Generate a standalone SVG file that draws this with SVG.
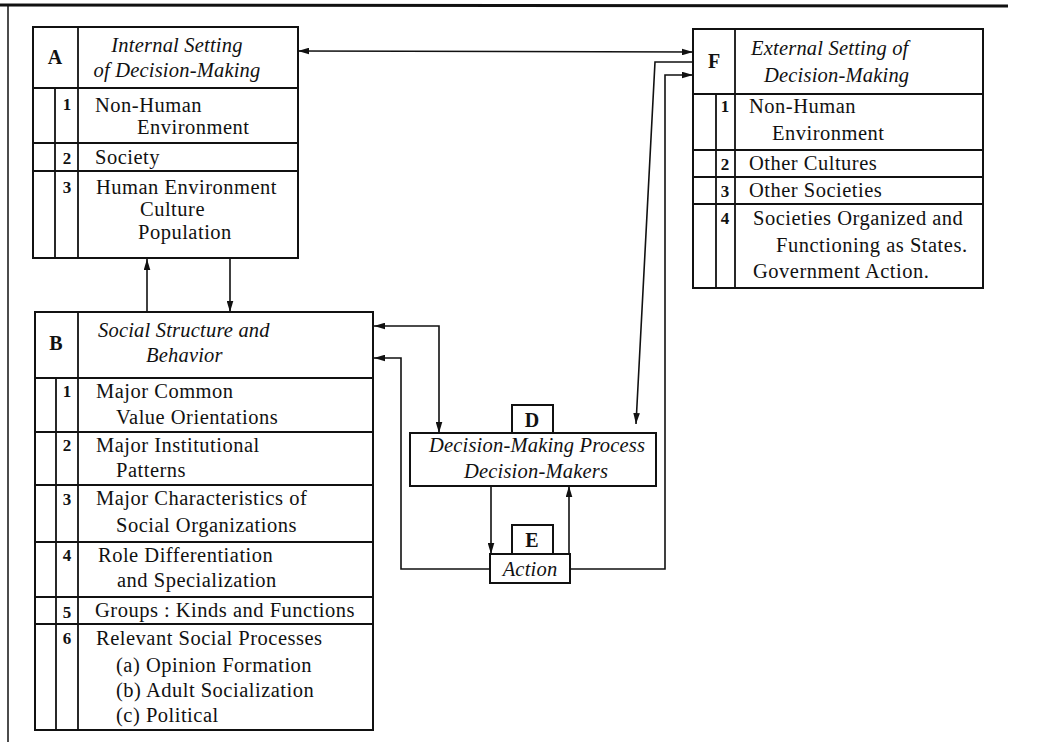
<svg xmlns="http://www.w3.org/2000/svg" width="1052" height="742" viewBox="0 0 1052 742">
<style>
  .bx { fill: none; stroke: #111; stroke-width: 2; }
  .ln { stroke: #111; stroke-width: 1.8; fill: none; }
  .cn { stroke: #111; stroke-width: 1.6; fill: none; }
  text { font-family: "Liberation Serif", "Times New Roman", serif; fill: #111; }
  .t { font-size: 20.5px; letter-spacing: 0.5px; }
  .it { font-size: 20.5px; font-style: italic; letter-spacing: 0.2px; }
  .n { font-size: 17px; font-weight: bold; text-anchor: middle; }
  .L { font-size: 20px; font-weight: bold; text-anchor: middle; }
</style>
<defs>
  <marker id="ah" viewBox="0 0 10 6" refX="10" refY="3" markerWidth="11" markerHeight="7" markerUnits="userSpaceOnUse" orient="auto-start-reverse">
    <path d="M0,0 L10,3 L0,6 z" fill="#111"/>
  </marker>
</defs>
<rect width="1052" height="742" fill="#fff"/>
<g id="frame">
  <line x1="0" y1="5" x2="1008" y2="6" stroke="#111" stroke-width="3"/>
  <line x1="8" y1="6" x2="8" y2="742" stroke="#111" stroke-width="1.5"/>
</g>

<g id="nodeA">
  <rect class="bx" x="33" y="27" width="265" height="231"/>
  <line class="ln" x1="33" y1="88" x2="298" y2="88"/>
  <line class="ln" x1="78" y1="27" x2="78" y2="258"/>
  <line class="ln" x1="55" y1="88" x2="55" y2="258"/>
  <line class="ln" x1="33" y1="143" x2="298" y2="143"/>
  <line class="ln" x1="33" y1="171" x2="298" y2="171"/>
  <text class="L" x="55" y="64">A</text>
  <text class="it" x="177" y="52" text-anchor="middle">Internal Setting</text>
  <text class="it" x="177" y="77" text-anchor="middle">of Decision-Making</text>
  <text class="n" x="67" y="110">1</text>
  <text class="t" x="95" y="112">Non-Human</text>
  <text class="t" x="137" y="134">Environment</text>
  <text class="n" x="67" y="164">2</text>
  <text class="t" x="95" y="164">Society</text>
  <text class="n" x="67" y="193">3</text>
  <text class="t" x="96" y="194">Human Environment</text>
  <text class="t" x="140" y="216">Culture</text>
  <text class="t" x="138" y="239">Population</text>
</g>

<g id="nodeB">
  <rect class="bx" x="35" y="312" width="338" height="418"/>
  <line class="ln" x1="35" y1="378" x2="373" y2="378"/>
  <line class="ln" x1="78" y1="312" x2="78" y2="730"/>
  <line class="ln" x1="56" y1="378" x2="56" y2="730"/>
  <line class="ln" x1="35" y1="432" x2="373" y2="432"/>
  <line class="ln" x1="35" y1="485" x2="373" y2="485"/>
  <line class="ln" x1="35" y1="542" x2="373" y2="542"/>
  <line class="ln" x1="35" y1="597" x2="373" y2="597"/>
  <line class="ln" x1="35" y1="624" x2="373" y2="624"/>
  <text class="L" x="56" y="350">B</text>
  <text class="it" x="98" y="337">Social Structure and</text>
  <text class="it" x="146" y="362">Behavior</text>
  <text class="n" x="67" y="397">1</text>
  <text class="t" x="96" y="398">Major Common</text>
  <text class="t" x="116" y="424">Value Orientations</text>
  <text class="n" x="67" y="451">2</text>
  <text class="t" x="96" y="452">Major Institutional</text>
  <text class="t" x="116" y="477">Patterns</text>
  <text class="n" x="67" y="505">3</text>
  <text class="t" x="96" y="505">Major Characteristics of</text>
  <text class="t" x="116" y="532">Social Organizations</text>
  <text class="n" x="67" y="561">4</text>
  <text class="t" x="98" y="562">Role Differentiation</text>
  <text class="t" x="117" y="587">and Specialization</text>
  <text class="n" x="67" y="618">5</text>
  <text class="t" x="95" y="617">Groups : Kinds and Functions</text>
  <text class="n" x="67" y="644">6</text>
  <text class="t" x="96" y="645">Relevant Social Processes</text>
  <text class="t" x="116" y="672">(a) Opinion Formation</text>
  <text class="t" x="116" y="697">(b) Adult Socialization</text>
  <text class="t" x="116" y="722">(c) Political</text>
</g>

<g id="nodeD">
  <rect class="bx" x="512" y="405" width="41" height="28"/>
  <rect class="bx" x="410" y="433" width="246" height="53"/>
  <text class="L" x="532" y="427">D</text>
  <text class="it" x="537" y="452" text-anchor="middle">Decision-Making Process</text>
  <text class="it" x="536" y="478" text-anchor="middle">Decision-Makers</text>
</g>

<g id="nodeE">
  <rect class="bx" x="512" y="525" width="41" height="29"/>
  <rect class="bx" x="490" y="554" width="80" height="29"/>
  <text class="L" x="532" y="547">E</text>
  <text class="it" x="530" y="576" text-anchor="middle">Action</text>
</g>

<g id="nodeF">
  <rect class="bx" x="693" y="29" width="290" height="259"/>
  <line class="ln" x1="693" y1="94" x2="983" y2="94"/>
  <line class="ln" x1="735" y1="29" x2="735" y2="288"/>
  <line class="ln" x1="716" y1="94" x2="716" y2="288"/>
  <line class="ln" x1="693" y1="150" x2="983" y2="150"/>
  <line class="ln" x1="693" y1="177" x2="983" y2="177"/>
  <line class="ln" x1="693" y1="204" x2="983" y2="204"/>
  <text class="L" x="714" y="68">F</text>
  <text class="it" x="751" y="55">External Setting of</text>
  <text class="it" x="764" y="82">Decision-Making</text>
  <text class="n" x="725" y="112">1</text>
  <text class="t" x="749" y="113">Non-Human</text>
  <text class="t" x="772" y="140">Environment</text>
  <text class="n" x="725" y="170">2</text>
  <text class="t" x="749" y="170">Other Cultures</text>
  <text class="n" x="725" y="197">3</text>
  <text class="t" x="749" y="197">Other Societies</text>
  <text class="n" x="725" y="224">4</text>
  <text class="t" x="753" y="225">Societies Organized and</text>
  <text class="t" x="776" y="252">Functioning as States.</text>
  <text class="t" x="753" y="278">Government Action.</text>
</g>

<g id="connectors">
  <line class="cn" x1="298" y1="51" x2="693" y2="52" marker-start="url(#ah)" marker-end="url(#ah)"/>
  <line class="cn" x1="147" y1="312" x2="147" y2="259" marker-end="url(#ah)"/>
  <line class="cn" x1="230" y1="259" x2="230" y2="312" marker-end="url(#ah)"/>
  <path class="cn" d="M374,326 H439 V433" marker-start="url(#ah)" marker-end="url(#ah)"/>
  <path class="cn" d="M490,569 H401 V358 H374" marker-end="url(#ah)"/>
  <line class="cn" x1="491" y1="486" x2="491" y2="554" marker-end="url(#ah)"/>
  <line class="cn" x1="569" y1="554" x2="569" y2="486" marker-end="url(#ah)"/>
  <path class="cn" d="M570,569 H665 V75 H693" marker-end="url(#ah)"/>
  <path class="cn" d="M693,62 H655 L636,424" marker-end="url(#ah)"/>
</g>
</svg>
